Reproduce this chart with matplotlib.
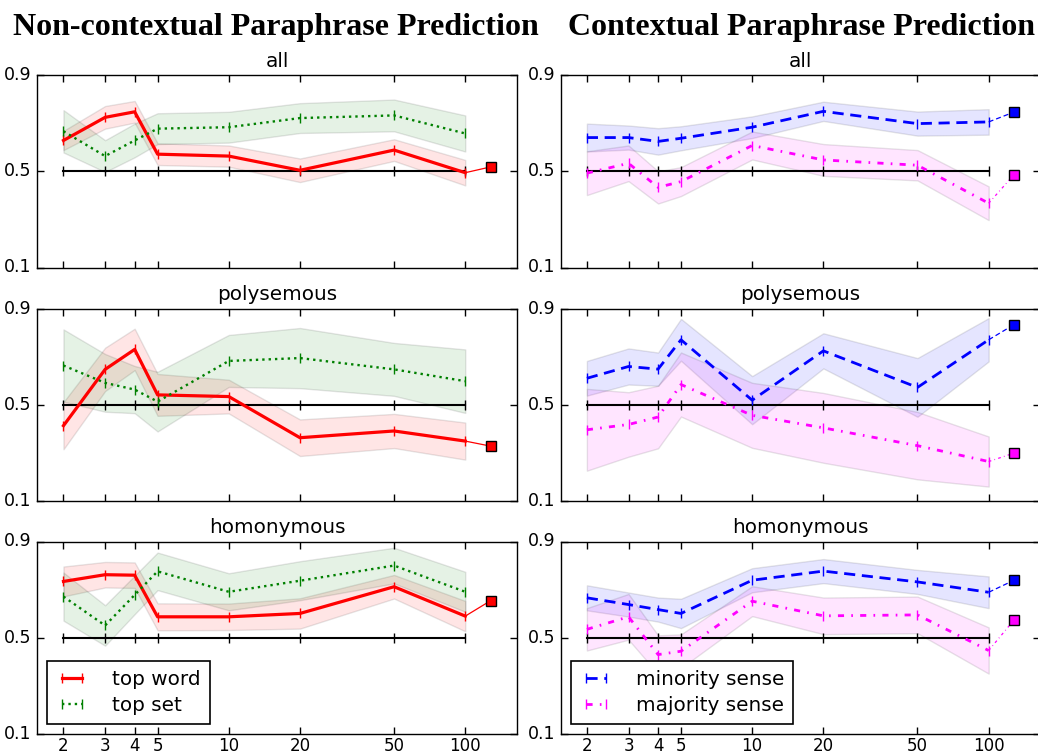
import matplotlib
matplotlib.use("Agg")
import matplotlib.pyplot as plt
from matplotlib.ticker import NullLocator, FixedLocator

plt.style.use("classic")
plt.rcParams["lines.scale_dashes"] = True

# Context window sizes (x) and the extra "full" setting plotted as a square
x_vals = [2, 3, 4, 5, 10, 20, 50, 100]
x_tick_labels = ["2", "3", "4", "5", "10", "20", "50", "100"]
x_full = 128
y_ticks = [0.1, 0.5, 0.9]
y_tick_labels = ["0.1", "0.5", "0.9"]
chance_level = 0.5

row_titles = ["all", "polysemous", "homonymous"]
col_titles = ["Non-contextual Paraphrase Prediction", "Contextual Paraphrase Prediction"]

# Non-contextual: top word
top_word_all = [0.628, 0.724, 0.747, 0.571, 0.563, 0.504, 0.588, 0.494]
top_word_all_err = [0.040, 0.047, 0.045, 0.045, 0.044, 0.049, 0.045, 0.053]
top_word_all_full = 0.518
top_word_poly = [0.413, 0.647, 0.730, 0.541, 0.534, 0.363, 0.391, 0.349]
top_word_poly_err = [0.098, 0.090, 0.086, 0.087, 0.070, 0.076, 0.071, 0.077]
top_word_poly_full = 0.328
top_word_homo = [0.734, 0.762, 0.760, 0.587, 0.587, 0.601, 0.712, 0.590]
top_word_homo_err = [0.062, 0.053, 0.053, 0.056, 0.055, 0.063, 0.049, 0.063]
top_word_homo_full = 0.654

# Non-contextual: top set
top_set_all = [0.666, 0.563, 0.628, 0.677, 0.683, 0.721, 0.732, 0.657]
top_set_all_err = [0.088, 0.066, 0.070, 0.064, 0.064, 0.062, 0.066, 0.075]
top_set_poly = [0.663, 0.591, 0.563, 0.513, 0.682, 0.694, 0.647, 0.598]
top_set_poly_err = [0.150, 0.120, 0.098, 0.124, 0.108, 0.125, 0.110, 0.132]
top_set_homo = [0.671, 0.551, 0.678, 0.776, 0.691, 0.737, 0.800, 0.691]
top_set_homo_err = [0.100, 0.084, 0.080, 0.078, 0.077, 0.081, 0.074, 0.083]

# Contextual: minority sense
minority_all = [0.640, 0.640, 0.624, 0.637, 0.683, 0.749, 0.698, 0.705]
minority_all_err = [0.058, 0.050, 0.055, 0.050, 0.045, 0.040, 0.050, 0.053]
minority_all_full = 0.746
minority_poly = [0.610, 0.659, 0.648, 0.770, 0.519, 0.724, 0.572, 0.770]
minority_poly_err = [0.072, 0.075, 0.069, 0.087, 0.100, 0.073, 0.122, 0.090]
minority_poly_full = 0.833
minority_homo = [0.666, 0.638, 0.617, 0.601, 0.739, 0.777, 0.732, 0.689]
minority_homo_err = [0.052, 0.050, 0.050, 0.061, 0.050, 0.050, 0.050, 0.066]
minority_homo_full = 0.739

# Contextual: majority sense
majority_all = [0.492, 0.533, 0.433, 0.457, 0.607, 0.547, 0.525, 0.367]
majority_all_err = [0.091, 0.074, 0.067, 0.060, 0.058, 0.066, 0.063, 0.070]
majority_all_full = 0.486
majority_poly = [0.396, 0.418, 0.449, 0.584, 0.456, 0.404, 0.330, 0.264]
majority_poly_err = [0.170, 0.134, 0.130, 0.133, 0.135, 0.145, 0.140, 0.104]
majority_poly_full = 0.299
majority_homo = [0.535, 0.587, 0.430, 0.444, 0.652, 0.591, 0.595, 0.447]
majority_homo_err = [0.088, 0.095, 0.080, 0.070, 0.062, 0.076, 0.076, 0.096]
majority_homo_full = 0.574

RED = "#ff0000"
GREEN = "#008000"
BLUE = "#0000ff"
MAGENTA = "#ff00ff"

SOLID = "-"
DOT = (0, (1, 1.7))
DASH = (0, (4, 2.4))
DASHDOT = (0, (2.2, 2.6, 0.6, 2.6))

left_series = [
    [("top word", RED, SOLID, 2.3, top_word_all, top_word_all_err, top_word_all_full),
     ("top set", GREEN, DOT, 1.7, top_set_all, top_set_all_err, None)],
    [("top word", RED, SOLID, 2.3, top_word_poly, top_word_poly_err, top_word_poly_full),
     ("top set", GREEN, DOT, 1.7, top_set_poly, top_set_poly_err, None)],
    [("top word", RED, SOLID, 2.3, top_word_homo, top_word_homo_err, top_word_homo_full),
     ("top set", GREEN, DOT, 1.7, top_set_homo, top_set_homo_err, None)],
]
right_series = [
    [("minority sense", BLUE, DASH, 2.0, minority_all, minority_all_err, minority_all_full),
     ("majority sense", MAGENTA, DASHDOT, 2.0, majority_all, majority_all_err, majority_all_full)],
    [("minority sense", BLUE, DASH, 2.0, minority_poly, minority_poly_err, minority_poly_full),
     ("majority sense", MAGENTA, DASHDOT, 2.0, majority_poly, majority_poly_err, majority_poly_full)],
    [("minority sense", BLUE, DASH, 2.0, minority_homo, minority_homo_err, minority_homo_full),
     ("majority sense", MAGENTA, DASHDOT, 2.0, majority_homo, majority_homo_err, majority_homo_full)],
]

W, H = 1038, 753
fig = plt.figure(figsize=(W / 100, H / 100), dpi=100, facecolor="white")

col_left_px = [37.3, 560.7]
ax_width_px = 479.4
row_top_px = [75, 308.5, 541.5]
ax_height_px = 192.5


def draw_panel(ax, series, row, show_legend):
    ax.plot(x_vals, [chance_level] * len(x_vals), color="k", lw=1.5,
            marker="|", ms=7, mew=1, zorder=2)
    handles = []
    for label, color, ls, lw, vals, err, full in series:
        lo = [v - e for v, e in zip(vals, err)]
        hi = [v + e for v, e in zip(vals, err)]
        ax.fill_between(x_vals, lo, hi, facecolor=color, edgecolor="k",
                        alpha=0.1, lw=1, zorder=1)
        h, = ax.plot(x_vals, vals, color=color, ls=ls, lw=lw, marker="|",
                     ms=7, mew=1, mec=color, label=label, zorder=3)
        handles.append(h)
        if full is not None:
            ax.plot([x_vals[-1], x_full], [vals[-1], full], color=color,
                    ls=ls, lw=0.9, zorder=3)
            ax.plot([x_full], [full], ls="none", marker="s", ms=7,
                    mfc=color, mec="k", mew=1, zorder=4)
    ax.set_xscale("log")
    ax.set_xlim(1.55, 165)
    ax.set_ylim(0.1, 0.9)
    ax.xaxis.set_major_locator(FixedLocator(x_vals))
    ax.xaxis.set_minor_locator(NullLocator())
    ax.yaxis.set_minor_locator(NullLocator())
    ax.set_xticks(x_vals)
    if row == 2:
        ax.set_xticklabels(x_tick_labels)
    else:
        ax.set_xticklabels([])
    ax.set_yticks(y_ticks)
    ax.set_yticklabels(y_tick_labels)
    ax.tick_params(direction="in", top=True, right=True, length=5, width=1,
                   labelsize=12.5)
    ax.tick_params(axis="x", pad=2, labelsize=12)
    ax.tick_params(axis="y", pad=4)
    ax.set_title(row_titles[row], fontsize=14.4, pad=6)
    if show_legend:
        leg = ax.legend(handles=handles, loc="lower left", fontsize=14.4,
                        numpoints=2, handlelength=1.6, handletextpad=1.2,
                        borderpad=0.45, labelspacing=0.35, borderaxespad=0.5,
                        fancybox=False, frameon=True)
        leg.get_frame().set_edgecolor("k")
        leg.get_frame().set_linewidth(1.2)


for c, col_series in enumerate([left_series, right_series]):
    for r in range(3):
        left = col_left_px[c] / W
        bottom = 1 - (row_top_px[r] + ax_height_px) / H
        ax = fig.add_axes([left, bottom, ax_width_px / W, ax_height_px / H])
        draw_panel(ax, col_series[r], r, show_legend=(r == 2))

fig.text(276 / W, 1 - 28 / H, col_titles[0], ha="center", va="center",
         family="Liberation Serif", weight="bold", fontsize=23)
fig.text(801 / W, 1 - 28 / H, col_titles[1], ha="center", va="center",
         family="Liberation Serif", weight="bold", fontsize=23)

fig.savefig("out.png", dpi=100, facecolor="white")
